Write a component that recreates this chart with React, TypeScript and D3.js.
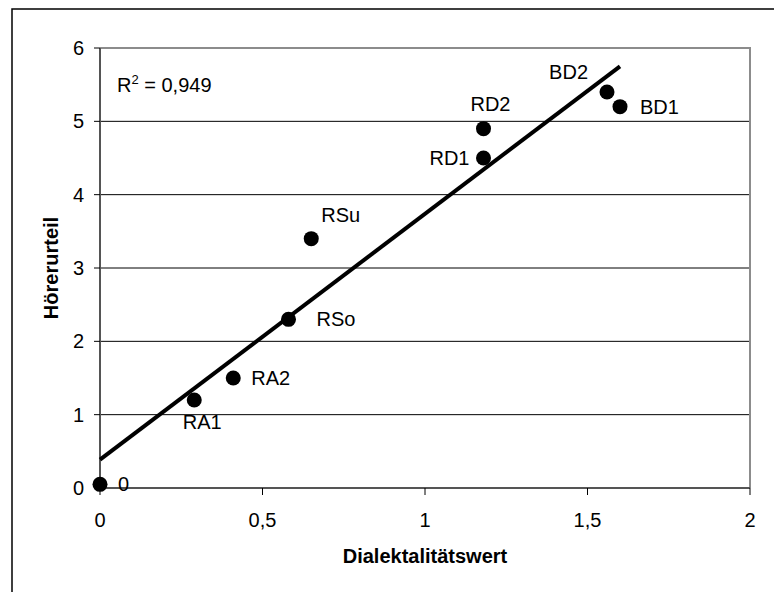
import React from "react";
import * as d3 from "d3";

// Dialektalitätswert vs. Hörerurteil
const labels = ["0", "RA1", "RA2", "RSo", "RSu", "RD1", "RD2", "BD2", "BD1"];
const dialektWerte = [0, 0.29, 0.41, 0.58, 0.65, 1.18, 1.18, 1.56, 1.6];
const hoererUrteile = [0.05, 1.2, 1.5, 2.3, 3.4, 4.5, 4.9, 5.4, 5.2];
const xTicks = [0, 0.5, 1, 1.5, 2];
const yTicks = [0, 1, 2, 3, 4, 5, 6];
const rSquared = "0,949";

// label placement relative to each point: [dx, dy, anchor]
const labelOffsets: [number, number, string][] = [
  [18, 0, "start"],
  [8, 22, "middle"],
  [18, 0, "start"],
  [28, 0, "start"],
  [10, -24, "start"],
  [-14, 0, "end"],
  [7, -25, "middle"],
  [-19, -20, "end"],
  [20, 0, "start"],
];

const W = 774;
const H = 592;
const margin = { left: 100, top: 48, right: 24, bottom: 104 };
const font = "'Liberation Sans', Arial, sans-serif";

const fmt = (v: number) => String(v).replace(".", ",");

export default function App() {
  const x = d3
    .scaleLinear()
    .domain([0, 2])
    .range([margin.left, W - margin.right]);
  const y = d3
    .scaleLinear()
    .domain([0, 6])
    .range([H - margin.bottom, margin.top]);

  // least-squares trend line
  const mx = d3.mean(dialektWerte)!;
  const my = d3.mean(hoererUrteile)!;
  const sxy = d3.sum(dialektWerte, (v, i) => (v - mx) * (hoererUrteile[i] - my));
  const sxx = d3.sum(dialektWerte, (v) => (v - mx) * (v - mx));
  const slope = sxy / sxx;
  const intercept = my - slope * mx;
  const x0 = d3.min(dialektWerte)!;
  const x1 = d3.max(dialektWerte)!;
  const trend = d3.line<number>()
    .x((d) => x(d))
    .y((d) => y(intercept + slope * d))([x0, x1]);

  const [left, right] = x.range();
  const [bottom, top] = y.range();

  return (
    <svg
      width={W}
      height={H}
      style={{ position: "absolute", left: 0, top: 0, background: "#fff" }}
      fontFamily={font}
    >
      <rect x={12} y={9} width={W + 20} height={H + 20} fill="#fff" stroke="#000" strokeWidth={1.5} />

      {/* gridlines */}
      {yTicks
        .filter((t) => t > 0 && t < 6)
        .map((t) => (
          <line key={"g" + t} x1={left} x2={right} y1={y(t)} y2={y(t)} stroke="#000" strokeWidth={1} />
        ))}

      {/* plot frame (top/right) */}
      <path
        d={`M${left},${top}H${right}V${bottom}`}
        fill="none"
        stroke="#8c8c8c"
        strokeWidth={2}
      />

      {/* axes */}
      <line x1={left} x2={left} y1={top} y2={bottom} stroke="#555" strokeWidth={2} />
      <line x1={left} x2={right} y1={bottom} y2={bottom} stroke="#555" strokeWidth={2} />
      {yTicks.map((t) => (
        <g key={"y" + t}>
          <line x1={left - 6} x2={left} y1={y(t)} y2={y(t)} stroke="#000" strokeWidth={1} />
          <text x={left - 16} y={y(t)} dy="0.35em" textAnchor="end" fontSize={20}>
            {fmt(t)}
          </text>
        </g>
      ))}
      {xTicks.map((t) => (
        <g key={"x" + t}>
          <line x1={x(t)} x2={x(t)} y1={bottom} y2={bottom + 7} stroke="#000" strokeWidth={1} />
          <text x={x(t)} y={bottom + 39} textAnchor="middle" fontSize={20}>
            {fmt(t)}
          </text>
        </g>
      ))}

      {/* trend line */}
      <path d={trend ?? ""} fill="none" stroke="#000" strokeWidth={4} />

      {/* points and labels */}
      {labels.map((l, i) => {
        const px = x(dialektWerte[i]);
        const py = y(hoererUrteile[i]);
        const [dx, dy, anchor] = labelOffsets[i];
        return (
          <g key={l}>
            <circle cx={px} cy={py} r={7.5} fill="#000" />
            <text x={px + dx} y={py + dy} dy="0.35em" textAnchor={anchor} fontSize={20}>
              {l}
            </text>
          </g>
        );
      })}

      <text x={117} y={92} fontSize={20}>
        R<tspan dy={-8} fontSize={13}>2</tspan>
        <tspan dy={8}> = {rSquared}</tspan>
      </text>

      <text x={(left + right) / 2} y={563} textAnchor="middle" fontSize={20} fontWeight="bold">
        Dialektalitätswert
      </text>
      <text
        transform={`translate(58,${(top + bottom) / 2}) rotate(-90)`}
        textAnchor="middle"
        fontSize={20}
        fontWeight="bold"
      >
        Hörerurteil
      </text>
    </svg>
  );
}
